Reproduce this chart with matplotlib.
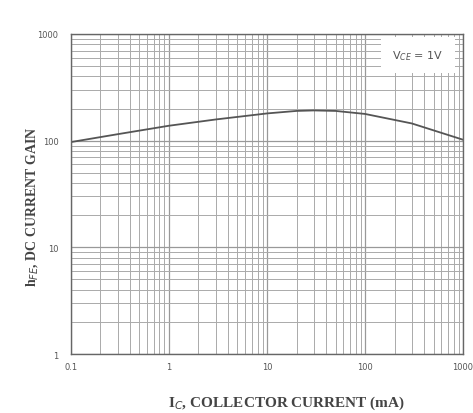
import numpy as np
import matplotlib.pyplot as plt
from matplotlib.ticker import NullFormatter

# Curve: collector current (mA) vs DC current gain
ic_ma = [0.1, 0.3, 1, 3, 10, 20, 30, 50, 100, 300, 1000]
hfe = [97, 115, 138, 158, 180, 190, 192, 190, 178, 145, 102]

x_ticks = [0.1, 1, 10, 100, 1000]
x_labels = ["0.1", "1", "10", "100", "1000"]
y_ticks = [1, 10, 100, 1000]
y_labels = ["1", "10", "100", "1000"]

fig = plt.figure(figsize=(4.73, 4.14), dpi=100)
ax = fig.add_axes([0.150, 0.1425, 0.829, 0.773])

ax.plot(ic_ma, hfe, color="#555555", lw=1.3)
ax.set_xscale("log")
ax.set_yscale("log")
ax.set_xlim(0.1, 1000)
ax.set_ylim(1, 1000)

ax.set_xticks(x_ticks)
ax.set_xticklabels(x_labels)
ax.set_yticks(y_ticks)
ax.set_yticklabels(y_labels)
ax.xaxis.set_minor_formatter(NullFormatter())
ax.yaxis.set_minor_formatter(NullFormatter())
ax.tick_params(which="both", length=0, labelsize=6, colors="#555555")
ax.tick_params(axis="x", pad=6)
ax.tick_params(axis="y", pad=9)

ax.grid(True, which="major", color="#999999", lw=0.9)
ax.grid(True, which="minor", color="#aaaaaa", lw=0.7)
for s in ax.spines.values():
    s.set_color("#666666")
    s.set_linewidth(1.0)

ax.text(0.95, 0.935, r"V$_{CE}$ = 1V", transform=ax.transAxes, ha="right",
        va="center", fontsize=8, color="#555555",
        bbox=dict(facecolor="white", edgecolor="none", pad=8))

ax.set_xlabel(r"I$_{C}$, COLLECTOR CURRENT (mA)", family="Liberation Serif",
              fontsize=11, fontweight="bold", color="#444444")
ax.xaxis.set_label_coords(0.55, -0.125)
ax.set_ylabel(r"h$_{FE}$, DC CURRENT GAIN", family="Liberation Serif",
              fontsize=10, fontweight="bold", color="#444444")
ax.yaxis.set_label_coords(-0.08, 0.4625)

fig.savefig("out.png", dpi=100)
